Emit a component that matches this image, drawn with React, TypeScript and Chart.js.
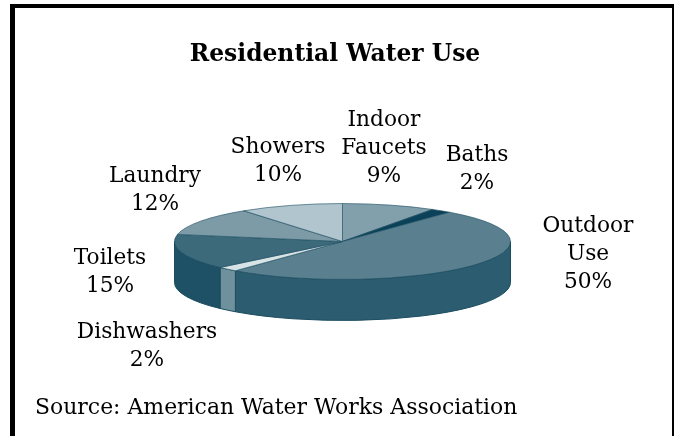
import React, { useEffect, useRef } from "react";
import { Chart, registerables, Plugin } from "chart.js";

Chart.register(...registerables);

const titleText = "Residential Water Use";
const sourceText = "Source: American Water Works Association";

const categories = ["Indoor Faucets", "Baths", "Outdoor Use", "Dishwashers", "Toilets", "Laundry", "Showers"];
const shares = [9, 2, 50, 2, 15, 12, 10];
const topColors = ["#82a0ac", "#0c4259", "#5a8090", "#d8e3e6", "#3d6a7b", "#7c9ba7", "#b0c5cd"];
const wallColors = ["#5f7f8b", "#0c4259", "#2b5c6f", "#6f919d", "#1e5166", "#5a7a87", "#7d98a2"];
const edgeColor = "#1b4c60";

// Label placement per slice: centre x and first line's middle y, one row per text line.
const labelLines = [["Indoor", "Faucets"], ["Baths"], ["Outdoor", "Use"], ["Dishwashers"], ["Toilets"], ["Laundry"], ["Showers"]];
const labelSpots = [
  { x: 384, y: 120 },
  { x: 477, y: 155 },
  { x: 588, y: 226 },
  { x: 147, y: 332 },
  { x: 110, y: 258 },
  { x: 155, y: 176 },
  { x: 278, y: 147 },
];

const squash = 0.226;
const wallDepth = 41;
const bodyFont = "21.7px 'DejaVu Serif', serif";
const sourceFont = "21.95px 'DejaVu Serif', serif";
const headFont = "bold 23.4px 'DejaVu Serif', serif";

// Draws the extruded rim, then flattens the pie into an ellipse while its arcs paint.
const tiltedPie: Plugin<"pie"> = {
  id: "tiltedPie",
  beforeDatasetsDraw(chart) {
    const ctx = chart.ctx;
    const arcs = chart.getDatasetMeta(0).data as any[];
    ctx.save();
    arcs.forEach((arc, i) => {
      const { x, y, startAngle, endAngle, outerRadius } = arc.getProps(["x", "y", "startAngle", "endAngle", "outerRadius"]);
      const from = Math.max(startAngle, 0);
      const to = Math.min(endAngle, Math.PI);
      if (from >= to) return;
      const ry = outerRadius * squash;
      ctx.beginPath();
      ctx.ellipse(x, y, outerRadius, ry, 0, from, to);
      ctx.lineTo(x + outerRadius * Math.cos(to), y + ry * Math.sin(to) + wallDepth);
      ctx.ellipse(x, y + wallDepth, outerRadius, ry, 0, to, from, true);
      ctx.closePath();
      ctx.fillStyle = wallColors[i];
      ctx.fill();
      ctx.strokeStyle = edgeColor;
      ctx.lineWidth = 1;
      ctx.stroke();
    });
    const { x, y } = arcs[0].getProps(["x", "y"]);
    ctx.translate(x, y);
    ctx.scale(1, squash);
    ctx.translate(-x, -y);
  },
  afterDatasetsDraw(chart) {
    chart.ctx.restore();
  },
};

// Title, slice captions and the source note.
const captions: Plugin<"pie"> = {
  id: "captions",
  afterDraw(chart) {
    const ctx = chart.ctx;
    ctx.save();
    ctx.fillStyle = "#000";
    ctx.textAlign = "center";
    ctx.textBaseline = "middle";
    ctx.font = headFont;
    ctx.fillText(titleText, 335, 55);
    ctx.font = bodyFont;
    labelLines.forEach((lines, i) => {
      const spot = labelSpots[i];
      [...lines, `${shares[i]}%`].forEach((line, row) => {
        ctx.fillText(line, spot.x, spot.y + row * 28);
      });
    });
    ctx.textAlign = "left";
    ctx.font = sourceFont;
    ctx.fillText(sourceText, 35, 408);
    ctx.restore();
  },
};

export default function App() {
  const ref = useRef<HTMLCanvasElement>(null);

  useEffect(() => {
    const chart = new Chart(ref.current!, {
      type: "pie",
      data: {
        labels: categories,
        datasets: [
          {
            data: shares,
            backgroundColor: topColors,
            borderColor: edgeColor,
            borderWidth: 1,
            clip: false,
          } as any,
        ],
      },
      options: {
        responsive: false,
        animation: false,
        events: [],
        layout: { padding: { left: 174, right: 163, top: 73, bottom: 26 } },
        plugins: { legend: { display: false }, tooltip: { enabled: false } },
      },
      plugins: [tiltedPie, captions],
    });
    return () => chart.destroy();
  }, []);

  return (
    <div style={{ position: "fixed", inset: 0, background: "#fff", overflow: "hidden" }}>
      <canvas ref={ref} width={674} height={436} style={{ position: "absolute", left: 0, top: 0 }} />
      <div
        style={{
          position: "absolute",
          left: 10,
          top: 4,
          width: 657,
          height: 432,
          borderTop: "4px solid #000",
          borderLeft: "5px solid #000",
          borderRight: "2px solid #000",
          boxSizing: "content-box",
          pointerEvents: "none",
        }}
      />
    </div>
  );
}
